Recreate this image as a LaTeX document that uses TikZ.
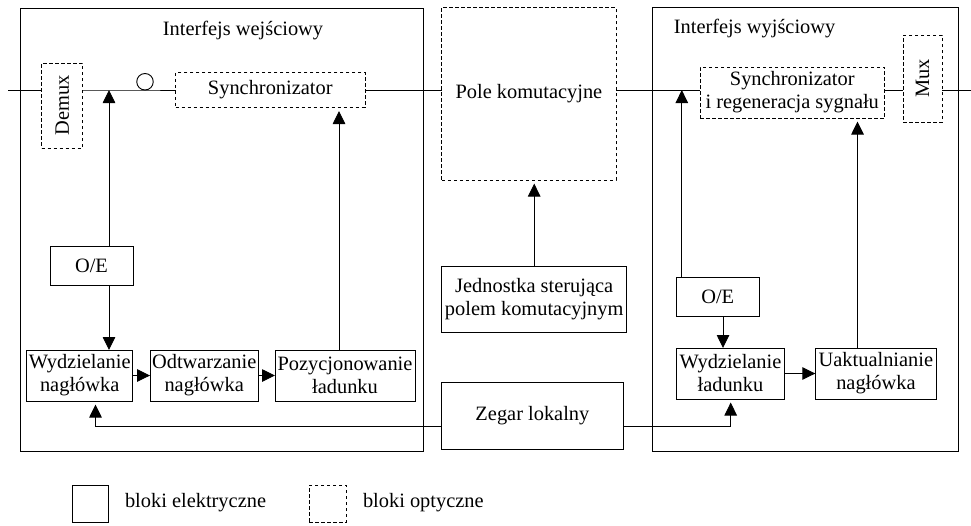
\documentclass[tikz,border=0pt]{standalone}
\usepackage{fontspec}
\setmainfont{Liberation Serif}
\usetikzlibrary{arrows.meta}
\begin{document}
\begin{tikzpicture}[x=1pt,y=-1pt,
  font=\fontsize{20.4}{23}\selectfont,
  every node/.style={inner sep=0pt, outer sep=0pt, align=center},
  ebox/.style={draw, line width=0.9pt},
  obox/.style={draw, line width=0.9pt, dash pattern=on 3.5pt off 2.5pt},
  wire/.style={line width=0.9pt},
  arr/.style={wire, -{Triangle[length=13pt,width=12.5pt]}},
  gaparr/.style={arr, shorten >=3.5pt}
]
\useasboundingbox (0,0) rectangle (971,525);

% interface frames
\node[ebox, minimum width=403.5pt, minimum height=443pt] (ifin) at (221.75,229.5) {};
\node[ebox, minimum width=305.4pt, minimum height=443.5pt] (ifout) at (805.3,229.25) {};
\node (tin) at (243,31) {Interfejs wejściowy};
\node (tout) at (754.6,29) {Interfejs wyjściowy};

% signal path coordinates
\coordinate (in) at (8,90);
\coordinate (out) at (971,90);
\coordinate (tap1) at (109,90);
\coordinate (tap2) at (681.8,90);
\coordinate (c1) at (339,0);
\coordinate (c2) at (723,0);
\coordinate (c3) at (857.5,0);
\coordinate (clkL) at (95.5,426);
\coordinate (clkR) at (730.7,426);

% input interface
\node[obox, minimum width=41pt, minimum height=85pt] (demux) at (62.2,105.5) {\rotatebox{90}{Demux}};
\node[draw, circle, line width=0.9pt, minimum size=16.5pt] (probe) at (145,81.75) {};
\node[obox, minimum width=189.3pt, minimum height=35pt] (sync1) at (270.3,90) {Synchronizator};
\node[ebox, minimum width=83pt, minimum height=39pt] (oe1) at (91.5,265.5) {O/E};
\node[ebox, minimum width=106pt, minimum height=51pt] (wn) at (79.7,375.5) {Wydzielanie\\nagłówka};
\node[ebox, minimum width=108.3pt, minimum height=51pt] (odt) at (204.2,375.5) {Odtwarzanie\\nagłówka};
\node[ebox, minimum width=140pt, minimum height=51pt] (poz) at (345,375.5) {Pozycjonowanie\\ładunku};

% switching part
\node[obox, minimum width=174.2pt, minimum height=172.7pt] (pole) at (528.9,93.7) {Pole komutacyjne};
\node[ebox, minimum width=184.8pt, minimum height=66pt] (jed) at (534.2,299) {Jednostka sterująca\\polem komutacyjnym};
\node[ebox, minimum width=181.2pt, minimum height=67pt] (zeg) at (532.4,415.5) {Zegar lokalny};

% output interface
\node[obox, minimum width=184.5pt, minimum height=51pt] (syncreg) at (792.25,92.5) {Synchronizator\\i regeneracja sygnału};
\node[obox, minimum width=39pt, minimum height=87pt] (mux) at (922.5,78.5) {\rotatebox{90}{Mux}};
\node[ebox, minimum width=82.5pt, minimum height=39pt] (oe2) at (717.75,296.5) {O/E};
\node[ebox, minimum width=107.9pt, minimum height=51pt] (wl) at (730.45,373.5) {Wydzielanie\\ładunku};
\node[ebox, minimum width=121.2pt, minimum height=51pt] (uak) at (875.9,373.5) {Uaktualnianie\\nagłówka};

% main optical path
\draw[wire] (in) -- (in -| demux.west);
\draw[wire] (demux.east |- in) -- (probe.south) -- (sync1.west);
\draw[wire] (sync1.east) -- (pole.west |- sync1.east);
\draw[wire] (pole.east |- in) -- (syncreg.west |- in);
\draw[wire] (syncreg.east |- in) -- (mux.west |- in);
\draw[wire] (mux.east |- in) -- (out);

% control arrows, input side
\draw[arr] (tap1 |- oe1.north) -- (tap1);
\draw[arr] (tap1 |- oe1.south) -- (tap1 |- wn.north);
\draw[arr] (wn.east) -- (odt.west);
\draw[arr] (odt.east) -- (poz.west);
\draw[gaparr] (c1 |- poz.north) -- (c1 |- sync1.south);

% control unit
\draw[gaparr] (jed.north) -- (jed.north |- pole.south);

% control arrows, output side
\draw[arr] (tap2 |- oe2.north) -- (tap2);
\draw[arr] (c2 |- oe2.south) -- (c2 |- wl.north);
\draw[arr] (wl.east |- uak.west) -- (uak.west);
\draw[gaparr] (c3 |- uak.north) -- (c3 |- syncreg.south);

% clock distribution
\draw[gaparr] (zeg.west |- clkL) -- (clkL) -- (clkL |- wn.south);
\draw[gaparr] (zeg.east |- clkR) -- (clkR) -- (clkR |- wl.south);

% legend
\node[ebox, minimum width=36pt, minimum height=37pt] (lege) at (90,503.5) {};
\node[anchor=west] (lette) at (125,503) {bloki elektryczne};
\node[obox, minimum width=37pt, minimum height=37pt] (lego) at (327.5,503.5) {};
\node[anchor=west] (lopt) at (363,503) {bloki optyczne};
\end{tikzpicture}
\end{document}
